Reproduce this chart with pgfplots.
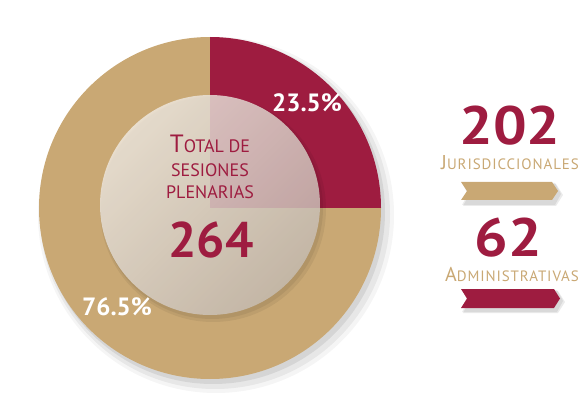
\documentclass[border=0pt]{standalone}
\usepackage{pgfplots}
\pgfplotsset{compat=1.18}
\usepackage{fontspec}
\setmainfont{PT Sans}
\definecolor{maroon}{RGB}{158,28,64}
\definecolor{tan}{RGB}{201,168,116}
\definecolor{creamA}{RGB}{240,234,226}
\definecolor{creamB}{RGB}{200,190,180}
\newcommand{\sz}[1]{\fontsize{#1}{#1}\selectfont}
\newcommand{\wide}{\addfontfeature{FakeStretch=1.1}}
\newcommand{\spaced}{\addfontfeature{LetterSpace=6}}

\begin{document}
\begin{tikzpicture}[every node/.style={inner sep=0pt}]
\begin{axis}[
  scale only axis, width=584pt, height=405pt,
  xmin=0, xmax=584, ymin=0, ymax=405,
  hide axis, clip=false]

% share of the sessions: Administrativas 62 (23.5%), Jurisdiccionales 202 (76.5%)
\addplot[draw=none, mark=none] coordinates {(0,0) (584,405)};

% soft shadow of the pie
\fill[black, opacity=0.04] (axis cs:216,190) circle[radius=178pt];
\fill[black, opacity=0.06] (axis cs:215,191) circle[radius=175pt];
\fill[black, opacity=0.08] (axis cs:213,193) circle[radius=172pt];

% sectors (maroon one spans the top right quarter in the picture)
\fill[tan] (axis cs:210,197) -- ++(90:171pt)
  arc[start angle=90, end angle=360, radius=171pt] -- cycle;
\fill[maroon] (axis cs:210,197) -- ++(0:171pt)
  arc[start angle=0, end angle=90, radius=171pt] -- cycle;

% inner disc
\fill[black, opacity=0.06] (axis cs:213,196) circle[radius=113pt];
\fill[black, opacity=0.06] (axis cs:212,197) circle[radius=111pt];
\shade[top color=creamA, bottom color=creamB, shading angle=45, fill opacity=0.82]
  (axis cs:210,200) circle[radius=110pt];

% labels on the pie
\node[anchor=base, text=white, font=\sz{25}\bfseries] at (axis cs:307,293) {23.5\%};
\node[anchor=base, text=white, font=\sz{25}\bfseries] at (axis cs:117,90) {76.5\%};

\node[anchor=base, text=maroon] at (axis cs:210,252)
  {{\sz{25}T}{\sz{18}OTAL DE}};
\node[anchor=base, text=maroon, font=\sz{18}] at (axis cs:210,228) {SESIONES};
\node[anchor=base, text=maroon, font=\sz{18}] at (axis cs:210,207) {PLENARIAS};
\node[anchor=base, text=maroon, font=\sz{50}\bfseries] at (axis cs:211,148) {264};

% right hand legend
\node[anchor=base, text=maroon, font=\sz{54}\bfseries\wide] at (axis cs:510,260) {202};
\node[anchor=base, text=tan] at (axis cs:510,235)
  {{\sz{20}J}{\sz{15}\spaced URISDICCIONALES}};
\node[anchor=base, text=maroon, font=\sz{54}\bfseries\wide] at (axis cs:508,149) {62};
\node[anchor=base, text=tan] at (axis cs:512,124)
  {{\sz{20}A}{\sz{15}\spaced DMINISTRATIVAS}};

% arrow bars with shadow
\fill[black, opacity=0.08] (axis cs:463,221) -- (axis cs:556,221) -- (axis cs:563,210)
  -- (axis cs:556,199) -- (axis cs:463,199) -- (axis cs:469,210) -- cycle;
\fill[black, opacity=0.08] (axis cs:462,222) -- (axis cs:555,222) -- (axis cs:561,211)
  -- (axis cs:555,200) -- (axis cs:462,200) -- (axis cs:468,211) -- cycle;
\fill[tan] (axis cs:461,223) -- (axis cs:552,223) -- (axis cs:558,214)
  -- (axis cs:552,205) -- (axis cs:461,205) -- (axis cs:467,214) -- cycle;

\fill[black, opacity=0.08] (axis cs:463,114) -- (axis cs:558,114) -- (axis cs:565,103)
  -- (axis cs:558,92) -- (axis cs:463,92) -- (axis cs:469,103) -- cycle;
\fill[black, opacity=0.08] (axis cs:462,115) -- (axis cs:557,115) -- (axis cs:563,104)
  -- (axis cs:557,93) -- (axis cs:462,93) -- (axis cs:468,104) -- cycle;
\fill[maroon] (axis cs:461,116) -- (axis cs:554,116) -- (axis cs:560,106.5)
  -- (axis cs:554,97) -- (axis cs:461,97) -- (axis cs:467,106.5) -- cycle;
\end{axis}
\end{tikzpicture}
\end{document}
